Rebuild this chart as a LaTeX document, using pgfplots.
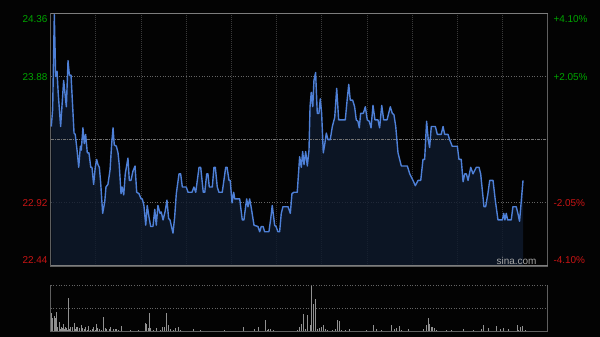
\documentclass[border=0pt]{standalone}
\usepackage{pgfplots}
\pgfplotsset{compat=1.18}
\usepackage{pgfplotstable}
\usepackage{fontspec}
\setmainfont{Liberation Sans}
\definecolor{bg}{RGB}{3,3,3}
\definecolor{upc}{RGB}{0,165,0}
\definecolor{dnc}{RGB}{200,20,20}
\definecolor{linec}{RGB}{78,128,215}
\definecolor{gridv}{RGB}{58,58,58}
\definecolor{gridh}{RGB}{100,100,100}
\definecolor{gridm}{RGB}{115,115,115}
\definecolor{frame}{RGB}{95,95,95}
\definecolor{framel}{RGB}{125,125,125}
\definecolor{fillc}{RGB}{15,26,45}
\definecolor{volc}{RGB}{145,145,145}
\definecolor{wm}{RGB}{165,165,165}

\pgfplotstableread{
m p
0.4 23.50
1.3 23.63
2.4 24.35
3.3 23.88
4.2 23.92
5.0 23.75
6.6 23.50
8.6 23.85
10.4 23.65
11.5 24.00
12.4 23.89
13.5 23.89
15.5 23.45
16.3 23.44
17.5 23.32
18.6 23.19
19.7 23.35
20.3 23.32
21.4 23.49
22.3 23.37
23.2 23.44
24.3 23.30
25.4 23.30
26.6 23.19
27.4 23.19
28.5 23.06
29.6 23.19
30.5 23.25
31.4 23.21
32.3 23.19
33.2 23.07
34.5 22.84
35.9 22.93
36.7 23.04
38.0 23.06
39.4 23.17
40.5 23.37
41.4 23.49
42.2 23.36
43.6 23.35
44.7 23.30
45.5 23.21
46.7 22.99
47.5 23.04
48.5 22.98
49.5 23.14
51.3 23.26
52.2 23.09
53.3 23.09
54.6 23.16
56.0 23.20
57.1 23.00
58.6 22.99
60.0 22.95
60.8 22.95
61.9 22.90
63.1 22.75
64.1 22.90
65.3 22.81
66.4 22.74
67.9 22.74
69.1 22.87
70.1 22.75
71.2 22.90
72.6 22.84
73.4 22.85
74.6 22.79
75.9 22.85
77.2 22.94
78.3 22.80
79.2 22.79
81.2 22.69
82.3 22.81
83.4 22.99
85.2 23.14
86.3 23.14
87.4 23.04
90.0 23.04
91.2 23.00
93.8 23.00
95.1 23.04
96.3 23.00
98.5 23.19
99.6 23.19
101.3 23.00
102.3 23.00
103.6 23.14
104.4 23.14
105.3 23.04
107.3 23.04
108.4 23.19
109.3 23.19
110.6 23.04
111.7 23.00
113.9 23.00
116.2 23.19
117.1 23.19
118.4 23.09
119.2 23.09
120.4 22.92
121.5 23.00
122.2 22.95
125.5 22.95
127.2 22.79
128.3 22.79
130.1 22.95
131.0 22.89
132.1 22.95
133.2 22.88
135.0 22.75
137.6 22.74
138.8 22.70
139.8 22.74
141.0 22.74
142.1 22.70
144.9 22.70
146.1 22.80
147.1 22.90
148.7 22.75
149.6 22.74
150.9 22.70
152.0 22.70
153.1 22.84
154.2 22.89
157.6 22.89
159.1 22.84
160.2 22.99
161.5 23.00
163.7 23.00
165.3 23.27
166.4 23.19
167.3 23.31
168.2 23.21
169.3 23.31
170.4 23.20
171.5 23.32
172.2 23.65
173.0 23.76
174.0 23.65
174.8 23.85
175.9 23.91
177.0 23.60
178.1 23.60
179.0 23.71
179.9 23.60
181.0 23.30
181.9 23.36
183.0 23.45
184.1 23.40
185.6 23.40
187.0 23.50
188.6 23.57
189.9 23.79
191.2 23.55
195.6 23.55
196.9 23.71
197.9 23.82
198.9 23.70
200.5 23.70
201.8 23.65
202.9 23.55
204.0 23.54
204.9 23.49
205.8 23.60
207.6 23.60
208.9 23.65
210.2 23.55
211.5 23.54
212.7 23.49
214.0 23.66
215.3 23.55
217.3 23.55
218.4 23.49
219.8 23.66
221.1 23.55
223.3 23.55
225.5 23.65
226.8 23.60
227.9 23.59
229.1 23.50
230.6 23.30
232.8 23.20
236.8 23.20
238.4 23.14
240.6 23.09
242.1 23.05
243.9 23.09
245.7 23.09
247.2 23.25
248.3 23.25
249.6 23.54
250.7 23.40
251.6 23.34
252.7 23.50
255.4 23.50
256.7 23.44
259.3 23.44
260.5 23.50
261.6 23.44
263.8 23.44
264.9 23.40
266.6 23.35
270.0 23.35
271.1 23.25
272.6 23.25
273.8 23.08
274.9 23.14
276.0 23.14
277.1 23.09
278.9 23.19
280.4 23.14
282.6 23.19
284.4 23.19
285.5 23.14
287.7 22.89
288.8 22.89
290.3 22.99
291.5 23.09
293.7 23.09
295.2 22.94
297.0 22.79
299.9 22.79
300.8 22.84
301.6 22.79
302.5 22.84
303.4 22.79
305.8 22.79
306.9 22.89
309.1 22.89
310.2 22.84
311.3 22.78
312.5 22.94
313.6 23.09
}\pricedata

\newcommand{\lbl}{\fontsize{10}{12}\selectfont}

\begin{document}
\begin{tikzpicture}
\fill[bg] (0bp,0bp) rectangle (600bp,337bp);
\useasboundingbox (0bp,0bp) rectangle (600bp,337bp);
\begin{axis}[
  at={(50.7bp,71bp)}, anchor=south west,
  width=497bp, height=252.7bp, scale only axis,
  xmin=0, xmax=330, ymin=22.44, ymax=24.36,
  xtick={30,60,...,300}, ytick={22.92,23.88},
  xticklabels={}, yticklabels={},
  major tick length=0pt,
  xmajorgrids, ymajorgrids,
  x grid style={gridv, line width=0.8bp, dash pattern=on 1bp off 1bp},
  y grid style={gridh, line width=0.8bp, dash pattern=on 1bp off 1.6bp},
  axis line style={frame, line width=1bp},
]
\addplot[fill=fillc, draw=none, fill opacity=0.8, forget plot] table[x=m,y=p]{\pricedata} \closedcycle;
\draw[gridm, line width=0.9bp, dash pattern=on 3bp off 1bp on 1bp off 1bp] (axis cs:0,23.40) -- (axis cs:330,23.40);
\addplot[linec, line width=1.4bp, line join=round, mark=none] table[x=m,y=p]{\pricedata};
\end{axis}
\draw[framel, line width=1bp] (50.7bp,323.7bp) -- (547.7bp,323.7bp);
\draw[framel, line width=1bp] (50.7bp,71bp) -- (547.7bp,71bp);
\node[anchor=east, text=upc, font=\lbl, inner sep=0pt] at (47.7bp,317.8bp) {24.36};
\node[anchor=east, text=upc, font=\lbl, inner sep=0pt] at (47.7bp,260bp) {23.88};
\node[anchor=east, text=dnc, font=\lbl, inner sep=0pt] at (47.7bp,134bp) {22.92};
\node[anchor=east, text=dnc, font=\lbl, inner sep=0pt] at (47.7bp,76.5bp) {22.44};
\node[anchor=west, text=upc, font=\lbl, inner sep=0pt] at (553.3bp,317.8bp) {+4.10\%};
\node[anchor=west, text=upc, font=\lbl, inner sep=0pt] at (553.3bp,260bp) {+2.05\%};
\node[anchor=west, text=dnc, font=\lbl, inner sep=0pt] at (553.3bp,134bp) {-2.05\%};
\node[anchor=west, text=dnc, font=\lbl, inner sep=0pt] at (553.3bp,76.5bp) {-4.10\%};
\node[anchor=base east, text=wm, font=\lbl, inner sep=0pt] at (536.7bp,72.7bp) {sina.com};

\begin{axis}[
  at={(50.7bp,5bp)}, anchor=south west,
  width=497bp, height=47bp, scale only axis,
  xmin=0, xmax=330, ymin=0, ymax=100,
  xtick=\empty, ytick={50}, yticklabels={},
  major tick length=0pt,
  ymajorgrids,
  y grid style={gridh, line width=0.8bp, dash pattern=on 1bp off 1.6bp},
  axis line style={draw=none},
]
\addplot[ycomb, volc, line width=0.9bp, mark=none] coordinates {
(0.7,40)(1.3,29)(2.2,33)(3.1,29)(4,43)(4.8,10)(5.7,22)(6.4,6)(7,11)(7.7,8)(8.4,18)(9,7)(9.7,11)(10.6,8)(11.3,5)(12,72)(12.7,6)(13.3,11)(14.4,11)(15.5,20)(16.2,7)(16.8,10)(17.9,10)(19,8)(20.1,15)(21.2,8)(22.6,6)(23.4,11)(24.2,5)(25,13)(26.1,4)(27.4,6)(28.7,10)(29.5,5)(30.1,17)(31.2,8)(32.7,6)(33.9,4)(34.9,31)(36.1,8)(37.2,6)(38.7,7)(40,10)(41.6,7)(42.7,7)(43.8,6)(45.1,4)(46,3)(47.1,13)(48.7,3)(50,2)(51.4,3)(52.7,4)(54,2)(55.4,3)(56.8,2)(58.2,4)(59.3,3)(60.6,2)(61.8,3)(62.8,20)(63.7,17)(64.6,8)(65.5,41)(66.4,8)(67.3,3)(68.1,4)(69.3,3)(70.4,8)(71.5,3)(72.6,4)(73.9,10)(75.2,10)(76.8,40)(78.1,15)(79.7,6)(81.4,4)(83,8)(84.7,10)(85.9,4)(87.6,3)(89,2)(90.3,3)(91.7,2)(93.2,3)(94.7,7)(96,2)(97.5,3)(99.1,4)(100.5,2)(102,3)(103.4,2)(105,3)(106.4,2)(108,3)(109.5,2)(111,3)(112.5,2)(114,3)(115.5,4)(117,2)(118.5,3)(120,2)(121.5,3)(123,2)(124.5,3)(126,2)(127.9,10)(129.4,3)(131,2)(132.5,3)(134,2)(135.6,6)(136.7,3)(137.8,10)(139.3,3)(140.8,2)(142.8,26)(143.7,4)(144.5,6)(145.3,3)(146.1,7)(147.8,4)(149.2,3)(150.6,2)(152,3)(153.5,2)(155,3)(156.5,2)(158,3)(159.5,2)(161,3)(162.5,2)(164,4)(164.9,10)(166.2,17)(167.7,38)(169,6)(170.8,36)(172.2,15)(173.3,100)(174.4,60)(175.7,70)(177,6)(178.3,8)(179.7,10)(181,15)(182.3,6)(183.8,4)(185.4,3)(186.8,4)(188.8,6)(190.3,26)(191.6,24)(193,4)(194.5,3)(196,4)(197.3,3)(198.3,6)(199.7,3)(201,2)(202.5,3)(204,2)(205.5,3)(207,2)(208.5,3)(209.8,4)(211.2,2)(212.7,3)(214.2,15)(215.2,3)(216,6)(217.5,2)(218.8,3)(219.8,4)(221.2,2)(222.6,3)(224,2)(225.4,3)(226.4,15)(227.2,3)(228.1,6)(229.7,8)(231.3,13)(232.2,3)(233,4)(234.5,2)(236,3)(237.4,6)(238.8,2)(240.3,3)(241.8,2)(243.3,3)(244.8,2)(246.2,3)(247.4,6)(249.2,15)(250.5,29)(251.4,18)(252.5,11)(253.6,10)(255,8)(256.3,4)(257.7,3)(259.2,2)(260.6,3)(262,2)(262.9,4)(264.4,2)(265.4,3)(266.2,4)(267.6,2)(269,3)(270.5,2)(272,3)(273,2)(274,6)(275.4,2)(276.8,3)(278.3,2)(279.5,3)(280.6,4)(282,2)(283.4,3)(284.8,2)(286.2,6)(287.2,15)(288.6,3)(289.8,2)(290.6,8)(292,3)(293.4,2)(294.8,3)(296.1,13)(297.3,3)(298.3,6)(299.5,2)(300.5,8)(301.7,3)(302.8,2)(303.8,6)(305,2)(306.4,3)(307.7,2)(309,3)(309.8,15)(310.7,4)(311.6,10)(312.5,3)(313.4,13)(314.9,4)
};
\end{axis}
\draw[frame, line width=1bp] (50.7bp,5bp) -- (50.7bp,52bp);
\draw[frame, line width=1bp] (547.7bp,5bp) -- (547.7bp,52bp);
\draw[frame, line width=1bp] (50.7bp,5bp) -- (547.7bp,5bp);
\draw[gridh, line width=0.8bp, dash pattern=on 1bp off 1.6bp] (50.7bp,52bp) -- (547.7bp,52bp);
\end{tikzpicture}
\end{document}
